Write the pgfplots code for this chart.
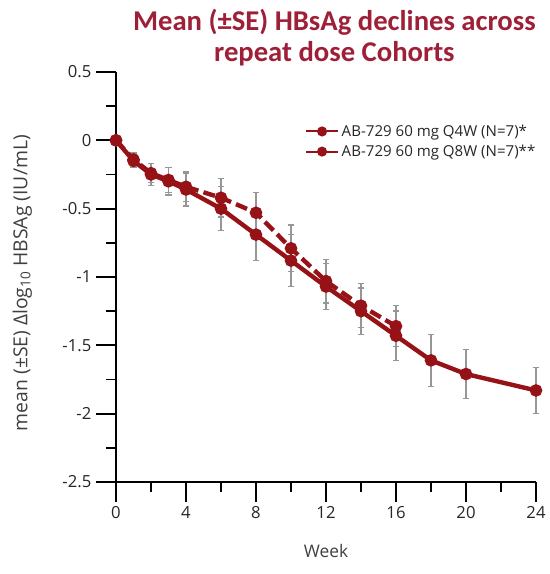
\documentclass[border=0pt]{standalone}
\usepackage{fontspec}
\setmainfont{Open Sans}
\newfontfamily\titlefont{Carlito}
\usepackage{pgfplots}
\pgfplotsset{compat=1.18}
\usetikzlibrary{calc}

\definecolor{lineRed}{RGB}{150,18,22}
\definecolor{titleRed}{RGB}{158,32,56}
\definecolor{barGray}{RGB}{150,150,150}

% week, mean change, SE
\pgfplotstableread{
x y e
0 0.00 0.00
1 -0.15 0.05
2 -0.25 0.08
3 -0.30 0.10
4 -0.36 0.12
6 -0.50 0.16
8 -0.69 0.19
10 -0.88 0.19
12 -1.07 0.17
14 -1.25 0.17
16 -1.43 0.18
18 -1.61 0.19
20 -1.71 0.18
24 -1.83 0.17
}\qfour

\pgfplotstableread{
x y e
0 0.00 0.00
1 -0.14 0.05
2 -0.24 0.07
3 -0.29 0.09
4 -0.34 0.11
6 -0.42 0.14
8 -0.53 0.15
10 -0.79 0.17
12 -1.03 0.16
14 -1.21 0.16
16 -1.36 0.15
}\qeight

\begin{document}
\begin{tikzpicture}
\begin{axis}[
    name=ax,
    scale only axis,
    width=315pt,
    height=307.5pt,
    xmin=0, xmax=24,
    ymin=-2.5, ymax=0.5,
    axis lines=left,
    axis line style={-, line width=1.6pt, black},
    tick align=outside,
    major tick length=15pt,
    minor tick length=7.5pt,
    every tick/.style={black, line width=1.3pt},
    xtick={0,4,8,12,16,20,24},
    xticklabels={0,4,8,12,16,20,24},
    minor x tick num=1,
    ytick={-2.5,-2,-1.5,-1,-0.5,0,0.5},
    yticklabels={-2.5,-2,-1.5,-1,-0.5,0,0.5},
    minor y tick num=1,
    tick label style={font=\fontsize{12.5}{15}\selectfont, text=black!85},
    xlabel={Week},
    xlabel style={font=\fontsize{13}{15}\selectfont, text=black!75, yshift=-12pt},
    every axis y label/.style={at={(ticklabel cs:0.485)}, rotate=90,
                  anchor=near ticklabel},
    ylabel={mean (±SE) Δlog\textsubscript{10} HBSAg (IU/mL)},
    ylabel style={font=\fontsize{14.5}{16}\selectfont, text=black!75, yshift=16pt},
    title={Mean (±SE) HBsAg declines across\\repeat dose Cohorts},
    title style={font=\titlefont\bfseries\fontsize{21.5}{23.5}\selectfont, text=titleRed,
                 align=center, at={(0.52,1)}, anchor=south, yshift=-5pt},
    legend style={draw=none, fill=none, at={(0.44,0.885)}, anchor=north west,
                  font=\fontsize{11.3}{14}\selectfont, text=black!85,
                  row sep=1pt},
    legend cell align=left,
    legend image code/.code={
        \draw[#1] (0pt,0pt) -- (24pt,0pt);
        \fill[lineRed] (12pt,0pt) circle (3pt);},
    clip=false,
]
\addplot[forget plot, lineRed, line width=3.3pt, mark=*, mark size=3pt,
    mark options={solid, fill=lineRed, draw=lineRed},
    error bars/.cd, y dir=both, y explicit,
    error bar style={barGray, line width=1pt, solid},
    error mark options={rotate=90, barGray, mark size=2.5pt, line width=1pt}]
    table[x=x, y=y, y error=e] {\qfour};
\addplot[forget plot, lineRed, line width=3.3pt, dash pattern=on 9pt off 4pt,
    mark=*, mark size=3pt,
    mark options={solid, fill=lineRed, draw=lineRed},
    error bars/.cd, y dir=both, y explicit,
    error bar style={barGray, line width=1pt, solid},
    error mark options={rotate=90, barGray, mark size=2.5pt, line width=1pt}]
    table[x=x, y=y, y error=e] {\qeight};
\addlegendimage{lineRed, line width=1.5pt}
\addlegendentry{AB-729 60 mg Q4W (N=7)*}
\addlegendimage{lineRed, line width=1.5pt}
\addlegendentry{AB-729 60 mg Q8W (N=7)**}
\end{axis}
\path ($(ax.south west)+(-87pt,-69pt)$) rectangle ++(410.25pt,430.5pt);
\end{tikzpicture}
\end{document}
